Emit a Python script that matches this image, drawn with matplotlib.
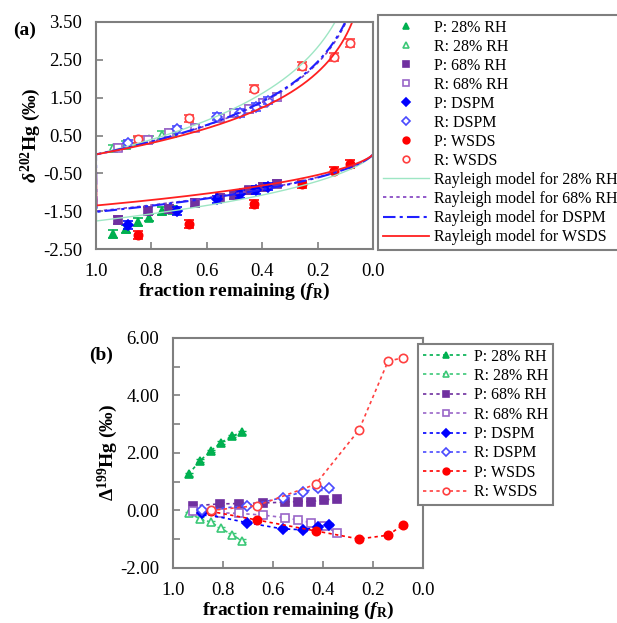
import matplotlib
matplotlib.use('Agg')
import matplotlib.pyplot as plt
import numpy as np
from matplotlib.ticker import MultipleLocator, FormatStrFormatter

plt.rcParams['font.family'] = ['Liberation Serif', 'DejaVu Serif']
plt.rcParams['mathtext.fontset'] = 'custom'
plt.rcParams['mathtext.rm'] = 'Liberation Serif:bold'
plt.rcParams['mathtext.it'] = 'Liberation Serif:italic:bold'
plt.rcParams['mathtext.bf'] = 'Liberation Serif:bold'
plt.rcParams['axes.unicode_minus'] = False

# fraction remaining (fR) for each experiment
f_28 = [0.938, 0.892, 0.849, 0.809, 0.763, 0.725]
f_68 = [0.920, 0.812, 0.737, 0.642, 0.551, 0.502, 0.449, 0.396, 0.345]
f_dspm = [0.885, 0.706, 0.562, 0.479, 0.421, 0.378]
f_wsds = [0.850, 0.664, 0.430, 0.256, 0.140, 0.082]

# (a) delta202Hg, product (P) and residual (R)
d202_P28 = [-2.10, -1.97, -1.78, -1.67, -1.50, -1.46]
d202_R28 = [0.16, 0.25, 0.35, 0.40, 0.51, 0.56]
d202_P68 = [-1.73, -1.49, -1.44, -1.28, -1.15, -1.07, -0.95, -0.86, -0.77]
d202_R68 = [0.18, 0.38, 0.56, 0.71, 0.95, 1.10, 1.20, 1.37, 1.52]
d202_Pdspm = [-1.87, -1.49, -1.19, -1.05, -0.94, -0.85]
d202_Rdspm = [0.29, 0.66, 1.00, 1.10, 1.25, 1.42]
d202_Pwsds = [-2.13, -1.84, -1.31, -0.79, -0.43, -0.25]
d202_Rwsds = [0.40, 0.95, 1.74, 2.34, 2.57, 2.95]

# (b) Delta199Hg
D199_P28 = [1.26, 1.73, 2.07, 2.36, 2.59, 2.72]
D199_R28 = [-0.10, -0.28, -0.41, -0.62, -0.85, -1.05]
D199_P68 = [0.16, 0.23, 0.24, 0.26, 0.29, 0.31, 0.31, 0.37, 0.40]
D199_R68 = [-0.03, -0.08, -0.10, -0.16, -0.25, -0.33, -0.42, -0.54, -0.77]
D199_Pdspm = [-0.10, -0.42, -0.64, -0.67, -0.58, -0.50]
D199_Rdspm = [0.02, 0.16, 0.45, 0.65, 0.77, 0.77]
D199_Pwsds = [-0.03, -0.33, -0.71, -0.99, -0.86, -0.51]
D199_Rwsds = [0.00, 0.17, 0.91, 2.80, 5.19, 5.31]

err_a = 0.10
err_b = 0.05

# Rayleigh enrichment factors (per mil)
eps_28, eps_68, eps_dspm, eps_wsds = 1.76, 1.50, 1.52, 1.35

green, green_o = '#00b050', '#3cc878'
purple, purple_o = '#7030a0', '#9a66c8'
blue, blue_o = '#0000ff', '#4a4aff'
red, red_o = '#ff0000', '#ff4040'
gray = '#7f7f7f'

fig = plt.figure(figsize=(6.17, 6.23), dpi=100)
ax1 = fig.add_axes([0.1556, 0.6003, 0.4489, 0.3644])
ax2 = fig.add_axes([0.2804, 0.0883, 0.4052, 0.3692])

series_a = [
    (f_28, d202_P28, '^', green, True, 'P: 28% RH'),
    (f_28, d202_R28, '^', green_o, False, 'R: 28% RH'),
    (f_68, d202_P68, 's', purple, True, 'P: 68% RH'),
    (f_68, d202_R68, 's', purple_o, False, 'R: 68% RH'),
    (f_dspm, d202_Pdspm, 'D', blue, True, 'P: DSPM'),
    (f_dspm, d202_Rdspm, 'D', blue_o, False, 'R: DSPM'),
    (f_wsds, d202_Pwsds, 'o', red, True, 'P: WSDS'),
    (f_wsds, d202_Rwsds, 'o', red_o, False, 'R: WSDS'),
]

for f, v, m, c, filled, lab in series_a:
    ms = 5.2 if m == 'D' else 6
    ax1.errorbar(f, v, yerr=err_a, fmt='none', ecolor=c, elinewidth=1.2, capsize=3.5, capthick=1.2)
    ax1.plot(f, v, m, ls='none', color=c, mfc=c if filled else 'white', mec=c, ms=ms,
             mew=1.2, label=lab)

# Rayleigh model curves
fm = np.linspace(0.0005, 1.0, 600)
models = [
    (eps_28, '#9ee6c4', '-', 1.0, 'Rayleigh model for 28% RH'),
    (eps_68, '#8040c0', (0, (2, 2)), 1.2, 'Rayleigh model for 68% RH'),
    (eps_dspm, '#2020ff', (0, (6, 2, 1.5, 2)), 1.5, 'Rayleigh model for DSPM'),
    (eps_wsds, '#ff2020', '-', 1.3, 'Rayleigh model for WSDS'),
]
for eps, c, ls, lw, lab in models:
    ax1.plot(fm, -eps * np.log(fm), color=c, ls=ls, lw=lw, label=lab)
    ax1.plot(fm, eps * fm * np.log(fm) / (1 - fm + 1e-12), color=c, ls=ls, lw=lw)

ax1.set_xlim(1.0, 0.0)
ax1.set_ylim(-2.5, 3.5)
ax1.xaxis.set_major_locator(MultipleLocator(0.2))
ax1.set_yticks(np.arange(-2.5, 3.6, 1.0))
ax1.xaxis.set_major_formatter(FormatStrFormatter('%.1f'))
ax1.yaxis.set_major_formatter(FormatStrFormatter('%.2f'))
ax1.set_xlabel(r'fraction remaining ($f_\mathrm{R}$)', fontsize=14, fontweight='bold', labelpad=1)
ax1.set_ylabel(r'$\delta^{202}$Hg (‰)', fontsize=14, fontweight='bold', labelpad=0)

h, l = ax1.get_legend_handles_labels()
leg1 = fig.legend(h, l, loc='upper left', bbox_to_anchor=(0.6126, 0.976), fontsize=11.5,
                  frameon=True, fancybox=False, edgecolor=gray, framealpha=1,
                  handlelength=2.9, labelspacing=0.19, borderpad=0.3, handletextpad=0.3,
                  markerscale=0.8, borderaxespad=0)
leg1.get_frame().set_linewidth(1.5)

series_b = [
    (f_28, D199_P28, '^', green, True, 'P: 28% RH'),
    (f_28, D199_R28, '^', green_o, False, 'R: 28% RH'),
    (f_68, D199_P68, 's', purple, True, 'P: 68% RH'),
    (f_68, D199_R68, 's', purple_o, False, 'R: 68% RH'),
    (f_dspm, D199_Pdspm, 'D', blue, True, 'P: DSPM'),
    (f_dspm, D199_Rdspm, 'D', blue_o, False, 'R: DSPM'),
    (f_wsds, D199_Pwsds, 'o', red, True, 'P: WSDS'),
    (f_wsds, D199_Rwsds, 'o', red_o, False, 'R: WSDS'),
]
for f, v, m, c, filled, lab in series_b:
    ms = 5 if m == 'D' else 6
    ax2.errorbar(f, v, yerr=err_b, fmt='none', ecolor=c, elinewidth=1.0, capsize=3, capthick=1.0)
    ax2.plot(f, v, marker=m, ls=(0, (2, 2)), lw=1.2, color=c, mfc=c if filled else 'white',
             mec=c, ms=ms, mew=1.2, label=lab)

ax2.set_xlim(1.0, 0.0)
ax2.set_ylim(-2.0, 6.0)
ax2.xaxis.set_major_locator(MultipleLocator(0.2))
ax2.yaxis.set_major_locator(MultipleLocator(2.0))
ax2.yaxis.set_minor_locator(MultipleLocator(1.0))
ax2.xaxis.set_major_formatter(FormatStrFormatter('%.1f'))
ax2.yaxis.set_major_formatter(FormatStrFormatter('%.2f'))
ax2.set_xlabel(r'fraction remaining ($f_\mathrm{R}$)', fontsize=14, fontweight='bold', labelpad=1)
ax2.set_ylabel(r'$\Delta^{199}$Hg (‰)', fontsize=14, fontweight='bold', labelpad=0)

h, l = ax2.get_legend_handles_labels()
leg2 = fig.legend(h, l, loc='upper left', bbox_to_anchor=(0.6775, 0.448), fontsize=11.5,
                  frameon=True, fancybox=False, edgecolor=gray, framealpha=1,
                  handlelength=2.9, labelspacing=0.21, borderpad=0.3, handletextpad=0.3,
                  markerscale=0.8, borderaxespad=0)
leg2.get_frame().set_linewidth(1.5)

for ax in (ax1, ax2):
    for s in ax.spines.values():
        s.set_color(gray)
        s.set_linewidth(1.5)
    ax.tick_params(which='both', direction='in', colors='black', labelsize=13.5, pad=10)
    ax.tick_params(which='both', color=gray, width=1.2, length=5)

fig.text(0.021, 0.944, '(a)', fontsize=14, fontweight='bold')
fig.text(0.145, 0.422, '(b)', fontsize=14, fontweight='bold')

fig.savefig('out.png', dpi=100)
